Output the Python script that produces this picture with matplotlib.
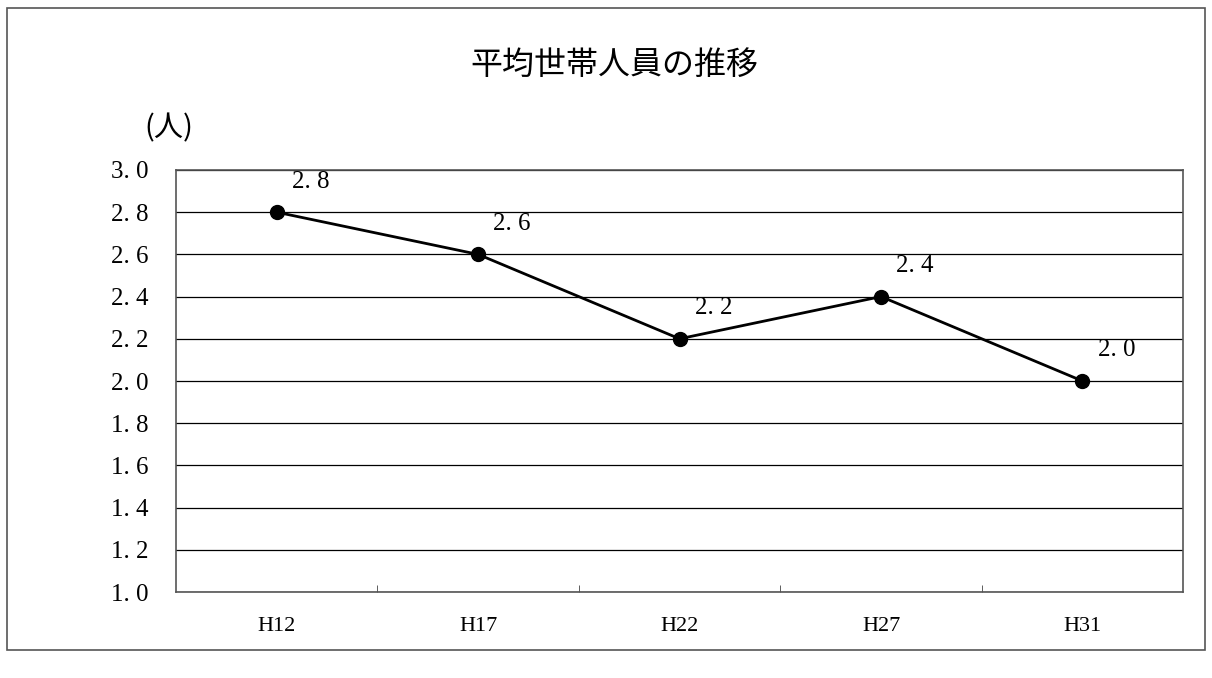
import numpy as np
from matplotlib import pyplot as plt
from matplotlib.patches import Rectangle

nendo = ["H12", "H17", "H22", "H27", "H31"]
setai_jinin = [2.8, 2.6, 2.2, 2.4, 2.0]
tacche_y = [1.0, 1.2, 1.4, 1.6, 1.8, 2.0, 2.2, 2.4, 2.6, 2.8, 3.0]

font_num = "Liberation Serif"
font_jp = ["Noto Sans CJK JP", "DejaVu Sans"]

fig = plt.figure(figsize=(12.12, 6.78), dpi=100)
ax = fig.add_axes([0.1452, 0.1268, 0.831, 0.6225])

x = np.arange(len(nendo))
ax.plot(x, setai_jinin, color="black", linewidth=2, marker="o", markersize=10, zorder=3)

# Etichette dei valori sopra a destra dei punti.
for xi, v in zip(x, setai_jinin):
    ax.annotate(f"{v:.1f}".replace(".", ". "), (xi, v), xytext=(11, 22), textcoords="offset points",
                fontsize=18, family=font_num, ha="left", va="center")

ax.set_xlim(-0.5, len(nendo) - 0.5)
ax.set_ylim(1.0, 3.0)
ax.set_yticks(tacche_y)
ax.set_yticklabels([f"{t:.1f}".replace(".", ". ") for t in tacche_y], fontsize=18, family=font_num)
ax.tick_params(axis="y", length=0, pad=20)
ax.set_xticks(x)
ax.set_xticklabels(nendo, fontsize=16, family=font_num)
ax.tick_params(axis="x", length=0, pad=18)
ax.set_xticks(np.arange(0.5, len(nendo) - 0.5, 1), minor=True)
ax.tick_params(axis="x", which="minor", direction="in", length=5, color="#444444")

ax.grid(axis="y", color="black", linewidth=0.9)
ax.set_axisbelow(True)
for s in ax.spines.values():
    s.set_color("#555555")
    s.set_linewidth(1.2)

fig.text(0.507, 0.904, "平均世帯人員の推移", fontsize=23, family=font_jp, ha="center", va="center")
fig.text(0.139, 0.811, "(人)", fontsize=21, family=font_jp, ha="center", va="center")

# Cornice esterna.
fig.patches.append(Rectangle((0.006, 0.041), 0.988, 0.947, transform=fig.transFigure,
                             fill=False, edgecolor="#555555", linewidth=1.2))

plt.savefig("out.png", dpi=100)
